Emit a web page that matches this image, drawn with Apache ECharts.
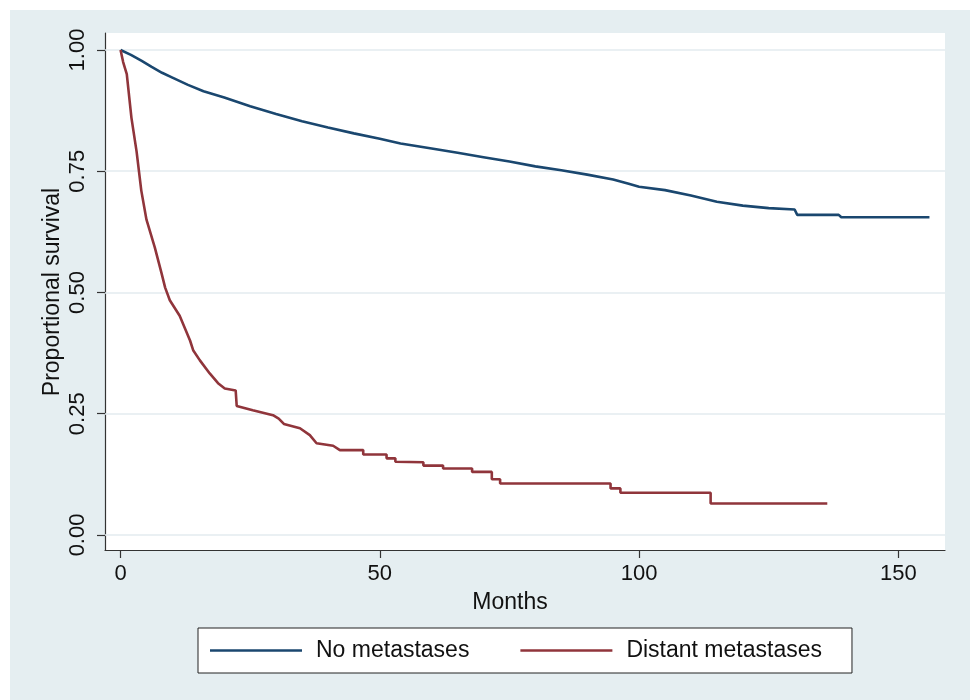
<!DOCTYPE html>
<html>
<head>
<meta charset="utf-8">
<script src="https://cdn.jsdelivr.net/npm/echarts@6/dist/echarts.min.js"></script>
<style>
  html, body { margin: 0; padding: 0; background: #ffffff; }
  #chart { position: absolute; left: 10px; top: 10px; width: 960px; height: 690px; }
</style>
</head>
<body>
<div id="chart"></div>
<script>
// ---- Data ----
const seriesNames = ['No metastases', 'Distant metastases'];
const xTicks = [0, 50, 100, 150];
const yTicks = [0, 0.25, 0.5, 0.75, 1];
const yTickLabels = ['0.00', '0.25', '0.50', '0.75', '1.00'];
const xTitle = 'Months';
const yTitle = 'Proportional survival';

// Kaplan-Meier curves (months, survival); repeated months mark a drop
const noMetMonths = [0, 2, 4, 6, 8, 10, 13, 16, 20, 25, 30, 35, 40, 45, 50, 54, 60, 65, 70, 75, 80, 85, 90, 95, 98, 100, 105, 110, 115, 120, 125, 130, 130.5, 138.5, 139, 156];
const noMetSurv  = [1.0, 0.99, 0.978, 0.965, 0.953, 0.943, 0.928, 0.915, 0.902, 0.884, 0.868, 0.853, 0.840, 0.828, 0.817, 0.807, 0.797, 0.788, 0.779, 0.770, 0.760, 0.752, 0.743, 0.733, 0.724, 0.718, 0.711, 0.700, 0.687, 0.679, 0.674, 0.671, 0.660, 0.660, 0.655, 0.655];

const distMonths = [0, 0.5, 1.2, 2.1, 3.1, 4, 5, 6.6, 7.9, 8.6, 9.5, 11.4, 13.4, 14, 15.3, 17.2, 18.8, 20.1, 22.2, 22.4, 25.5, 29.4, 30.5, 31.5, 34.6, 36.5, 37.8, 41, 42.3, 46.8, 46.8, 51.3, 51.3, 53, 53, 58.4, 58.4, 62.2, 62.2, 67.8, 67.8, 71.6, 71.6, 73.2, 73.2, 94.5, 94.5, 96.4, 96.4, 113.8, 113.8, 136.3];
const distSurv   = [1.0, 0.975, 0.95, 0.86, 0.79, 0.71, 0.65, 0.593, 0.54, 0.51, 0.484, 0.452, 0.401, 0.381, 0.36, 0.333, 0.313, 0.302, 0.298, 0.266, 0.257, 0.247, 0.240, 0.229, 0.220, 0.206, 0.189, 0.184, 0.175, 0.175, 0.166, 0.166, 0.158, 0.158, 0.151, 0.150, 0.143, 0.143, 0.137, 0.137, 0.130, 0.130, 0.115, 0.115, 0.106, 0.106, 0.096, 0.096, 0.087, 0.087, 0.065, 0.065];

// ---- Chart ----
const FONT = '"Liberation Sans", Arial, Helvetica, sans-serif';
const zip = (xs, ys) => xs.map((x, i) => [x, ys[i]]);

const chart = echarts.init(document.getElementById('chart'), null, { renderer: 'canvas' });

const option = {
  backgroundColor: '#e5eef1',
  animation: false,
  textStyle: { fontFamily: FONT },
  grid: {
    left: 95, right: 25, top: 23, bottom: 150,
    show: true, backgroundColor: '#ffffff', borderWidth: 0
  },
  xAxis: {
    type: 'value', min: -3, max: 159,
    axisLine: { show: true, onZero: false, lineStyle: { color: '#333333', width: 1.2 } },
    axisTick: { show: true, length: 8, customValues: xTicks, lineStyle: { color: '#333333', width: 1.2 } },
    axisLabel: { customValues: xTicks, margin: 13, fontSize: 22, color: '#111111', fontFamily: FONT },
    splitLine: { show: false }
  },
  yAxis: {
    type: 'value', min: -0.031, max: 1.035,
    axisLine: { show: true, onZero: false, lineStyle: { color: '#333333', width: 1.2 } },
    axisTick: { show: true, length: 8, customValues: yTicks, lineStyle: { color: '#333333', width: 1.2 } },
    axisLabel: {
      customValues: yTicks, rotate: 90, margin: 16, fontSize: 22, color: '#111111', fontFamily: FONT,
      formatter: v => { const i = yTicks.findIndex(t => Math.abs(t - v) < 1e-9); return i >= 0 ? yTickLabels[i] : ''; }
    },
    splitLine: { show: false }
  },
  legend: {
    data: seriesNames,
    left: 188, top: 618,
    orient: 'horizontal',
    backgroundColor: '#ffffff',
    borderColor: '#222222', borderWidth: 1,
    padding: [11, 30, 11, 12],
    itemWidth: 92, itemHeight: 2.5, itemGap: 51,
    icon: 'rect',
    textStyle: { fontSize: 23, color: '#111111', fontFamily: FONT, padding: [0, 0, 0, 9] }
  },
  graphic: [
    {
      type: 'text',
      style: { text: xTitle, font: '23px ' + FONT, fill: '#111111', align: 'center', verticalAlign: 'middle' },
      x: 500, y: 593
    },
    {
      type: 'text', rotation: Math.PI / 2,
      style: { text: yTitle, font: '23px ' + FONT, fill: '#111111', align: 'center', verticalAlign: 'middle' },
      x: 43, y: 282
    }
  ],
  series: [
    {
      name: seriesNames[0], type: 'line', showSymbol: false, symbol: 'none',
      data: zip(noMetMonths, noMetSurv),
      lineStyle: { color: '#1a476f', width: 2.6 },
      itemStyle: { color: '#1a476f' },
      z: 3,
      markLine: {
        silent: true, symbol: 'none', animation: false,
        label: { show: false },
        lineStyle: { color: '#e3ebef', width: 1.6, type: 'solid' },
        data: yTicks.map(v => ({ yAxis: v })),
        z: 1
      }
    },
    {
      name: seriesNames[1], type: 'line', showSymbol: false, symbol: 'none',
      data: zip(distMonths, distSurv),
      lineStyle: { color: '#90353b', width: 2.6 },
      itemStyle: { color: '#90353b' },
      z: 3
    }
  ]
};

chart.setOption(option);
</script>
</body>
</html>
